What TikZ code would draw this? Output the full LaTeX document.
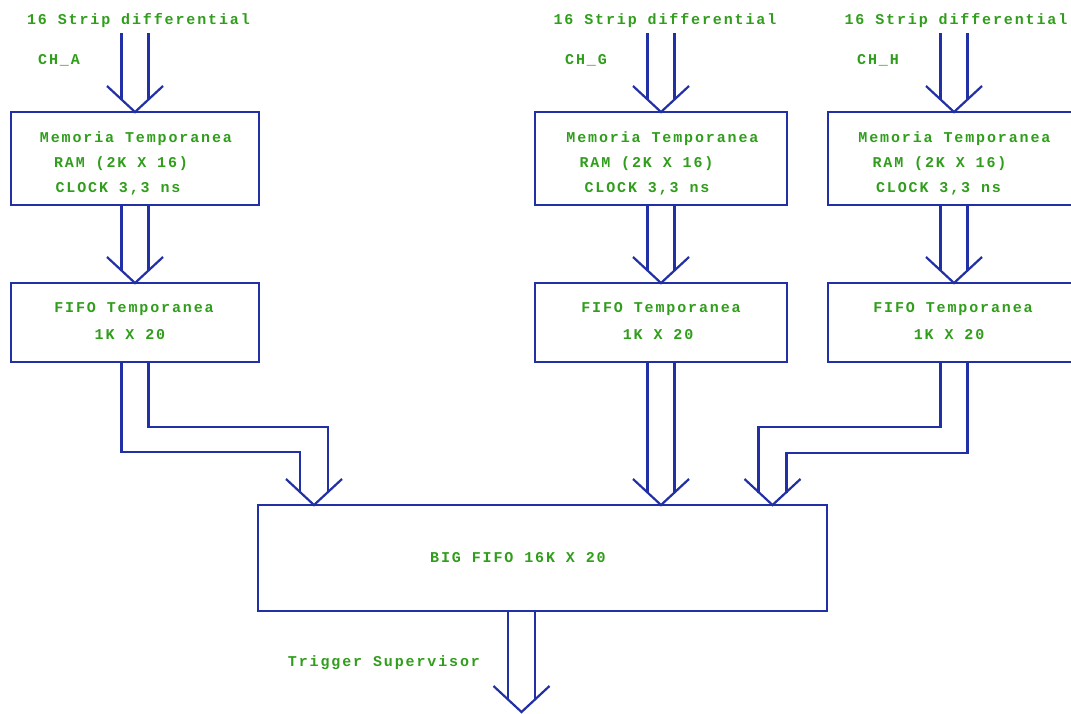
\documentclass[tikz,border=0pt]{standalone}
\usepackage{fontspec}
\usetikzlibrary{calc}
\newfontfamily\dfont[LetterSpace=12.5]{Liberation Mono Bold}
\definecolor{lineblue}{RGB}{34,48,165}
\definecolor{txtgreen}{RGB}{48,158,28}
\tikzset{
  conn/.style={draw=lineblue, line width=2.2pt},
  box/.style={draw=lineblue, line width=2.2pt, inner sep=0pt, outer sep=0pt, anchor=north west},
  txt/.style={text=txtgreen, font=\dfont\fontsize{15}{17}\selectfont, inner sep=0pt, anchor=base},
}
\newcommand\vhead[1]{\draw[conn] ([shift={(-28pt,26pt)}]#1) -- (#1) -- ([shift={(28pt,26pt)}]#1);}
\newcommand\dbl[2]{%
  \draw[conn] ([xshift=-13.5pt]#1) -- ([xshift=-13.5pt,yshift=12.5pt]#2);
  \draw[conn] ([xshift=13.5pt]#1) -- ([xshift=13.5pt,yshift=12.5pt]#2);
  \vhead{#2}}
\begin{document}
\begin{tikzpicture}[x=1pt,y=-1pt]
\useasboundingbox (0,0) rectangle (1071,713);
\clip (0,0) rectangle (1071,713);
\fill[white] (0,0) rectangle (1071,713);

% boxes
\node[box, minimum width=248pt, minimum height=93pt] (memA) at (11,112) {};
\node[box, minimum width=252pt, minimum height=93pt] (memG) at (535,112) {};
\node[box, minimum width=252pt, minimum height=93pt] (memH) at (828,112) {};
\node[box, minimum width=248pt, minimum height=79pt] (fifoA) at (11,283) {};
\node[box, minimum width=252pt, minimum height=79pt] (fifoG) at (535,283) {};
\node[box, minimum width=252pt, minimum height=79pt] (fifoH) at (828,283) {};
\node[box, minimum width=569pt, minimum height=106pt] (big) at (258,505) {};

% texts
\node[txt] (sA) at (138.5,24) {16 Strip differential};
\node[txt] (sG) at (665,24) {16 Strip differential};
\node[txt] (sH) at (956,24) {16 Strip differential};
\node[txt] (chA) at (59,64) {CH\_A};
\node[txt] (chG) at (586,64) {CH\_G};
\node[txt] (chH) at (878,64) {CH\_H};

\node[txt] (mA1) at (136,142) {Memoria Temporanea};
\node[txt] (mA2) at (121,167) {RAM (2K X 16)};
\node[txt] (mA3) at (118,192) {CLOCK 3,3 ns};
\node[txt] (mG1) at (662.5,142) {Memoria Temporanea};
\node[txt] (mG2) at (646.5,167) {RAM (2K X 16)};
\node[txt] (mG3) at (647,192) {CLOCK 3,3 ns};
\node[txt] (mH1) at (954.5,142) {Memoria Temporanea};
\node[txt] (mH2) at (939.5,167) {RAM (2K X 16)};
\node[txt] (mH3) at (938.5,192) {CLOCK 3,3 ns};

\node[txt] (fA1) at (134,312) {FIFO Temporanea};
\node[txt] (fA2) at (130,339) {1K X 20};
\node[txt] (fG1) at (661,312) {FIFO Temporanea};
\node[txt] (fG2) at (658,339) {1K X 20};
\node[txt] (fH1) at (953,312) {FIFO Temporanea};
\node[txt] (fH2) at (949,339) {1K X 20};

\node[txt] (bigt) at (518,562) {BIG FIFO 16K X 20};
\node[txt] (trig) at (384,666) {Trigger Supervisor};

% inputs
\coordinate (inA) at ([yshift=79pt]memA.north);
\coordinate (inG) at ([yshift=79pt]memG.north);
\coordinate (inH) at ([yshift=79pt]memH.north);
\dbl{inA}{memA.north}
\dbl{inG}{memG.north}
\dbl{inH}{memH.north}

% mem -> fifo
\dbl{memA.south}{fifoA.north}
\dbl{memG.south}{fifoG.north}
\dbl{memH.south}{fifoH.north}

% fifo -> big
\coordinate (tipA) at ([xshift=56pt]big.north west);
\coordinate (tipG) at (fifoG.south |- big.north);
\coordinate (tipH) at ([xshift=-54.5pt]big.north east);
\draw[conn] ([xshift=-13.5pt]fifoA.south) -- ++(0,90) -| ([xshift=-14pt,yshift=12.5pt]tipA);
\draw[conn] ([xshift=13.5pt]fifoA.south) -- ++(0,65) -| ([xshift=14pt,yshift=12.5pt]tipA);
\vhead{tipA}
\dbl{fifoG.south}{tipG}
\draw[conn] ([xshift=-13.5pt]fifoH.south) -- ++(0,65) -| ([xshift=-14pt,yshift=12.5pt]tipH);
\draw[conn] ([xshift=13.5pt]fifoH.south) -- ++(0,91) -| ([xshift=14pt,yshift=12.5pt]tipH);
\vhead{tipH}

% output
\coordinate (outTop) at ([xshift=-21pt]big.south);
\coordinate (out) at (521.5,712);
\dbl{outTop}{out}
\end{tikzpicture}
\end{document}
